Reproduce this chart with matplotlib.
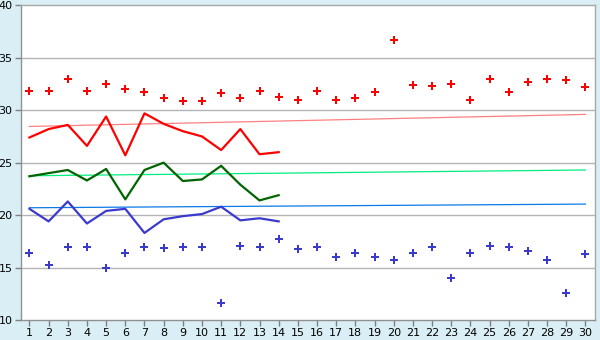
import numpy as np
import matplotlib.pyplot as plt

# データ
days = np.arange(1, 31)
days_line = np.arange(1, 15)

red_points = [31.8, 31.8, 33.0, 31.8, 32.5, 32.0, 31.7, 31.2, 30.9, 30.9,
              31.6, 31.2, 31.8, 31.3, 31.0, 31.8, 31.0, 31.2, 31.7, 36.7,
              32.4, 32.3, 32.5, 31.0, 33.0, 31.7, 32.7, 33.0, 32.9, 32.2]
blue_points = [16.4, 15.2, 17.0, 17.0, 15.0, 16.4, 17.0, 16.9, 17.0, 17.0,
               11.6, 17.1, 17.0, 17.7, 16.8, 17.0, 16.0, 16.4, 16.0, 15.7,
               16.4, 17.0, 14.0, 16.4, 17.1, 17.0, 16.6, 15.7, 12.6, 16.3]

red_line = [27.4, 28.2, 28.6, 26.6, 29.4, 25.7, 29.7, 28.7, 28.0, 27.5,
            26.2, 28.2, 25.8, 26.0]
green_line = [23.7, 24.0, 24.3, 23.3, 24.4, 21.5, 24.3, 25.0, 23.25, 23.4,
              24.7, 22.9, 21.4, 21.9]
blue_line = [20.6, 19.4, 21.3, 19.2, 20.4, 20.6, 18.3, 19.6, 19.9, 20.1,
             20.8, 19.5, 19.7, 19.4]

# トレンド線（始点・終点）
trend_x = [1, 30]
red_trend = [28.45, 29.6]
green_trend = [23.75, 24.3]
blue_trend = [20.7, 21.05]

yticks = [10, 15, 20, 25, 30, 35, 40]

fig = plt.figure(figsize=(6, 3.4), dpi=100, facecolor='#d9eff5')
ax = fig.add_axes([0.035, 0.0588, 0.9567, 0.9256])
ax.set_facecolor('white')

# グリッド
for y in yticks[1:-1]:
    ax.axhline(y, color='#b4b4b4', linewidth=1, zorder=1)

# トレンド線
ax.plot(trend_x, red_trend, color='#ff8080', linewidth=0.9, zorder=2)
ax.plot(trend_x, green_trend, color='#00ee80', linewidth=0.9, zorder=2)
ax.plot(trend_x, blue_trend, color='#0a7ae6', linewidth=0.9, zorder=2)

# 折れ線
ax.plot(days_line, red_line, color='#ff0000', linewidth=1.6, zorder=3)
ax.plot(days_line, green_line, color='#006400', linewidth=1.6, zorder=3)
ax.plot(days_line, blue_line, color='#3a3acc', linewidth=1.6, zorder=3)

# 点
ax.plot(days, red_points, linestyle='none', marker='P', markersize=5.5,
        color='#ff0000', markeredgewidth=0, zorder=4)
ax.plot(days, blue_points, linestyle='none', marker='P', markersize=5.5,
        color='#3a3acc', markeredgewidth=0, zorder=4)

ax.set_xlim(0.56, 30.5)
ax.set_ylim(10, 40)
ax.set_xticks(days)
ax.set_yticks(yticks)
ax.tick_params(axis='both', labelsize=8, color='#808080', length=4,
               width=1, direction='out', pad=2)

for s in ax.spines.values():
    s.set_color('#a8a8a8')
    s.set_linewidth(1)
ax.spines['left'].set_color('#909090')
ax.spines['bottom'].set_color('#909090')

plt.savefig('out.png', dpi=100, facecolor=fig.get_facecolor())
plt.close()
